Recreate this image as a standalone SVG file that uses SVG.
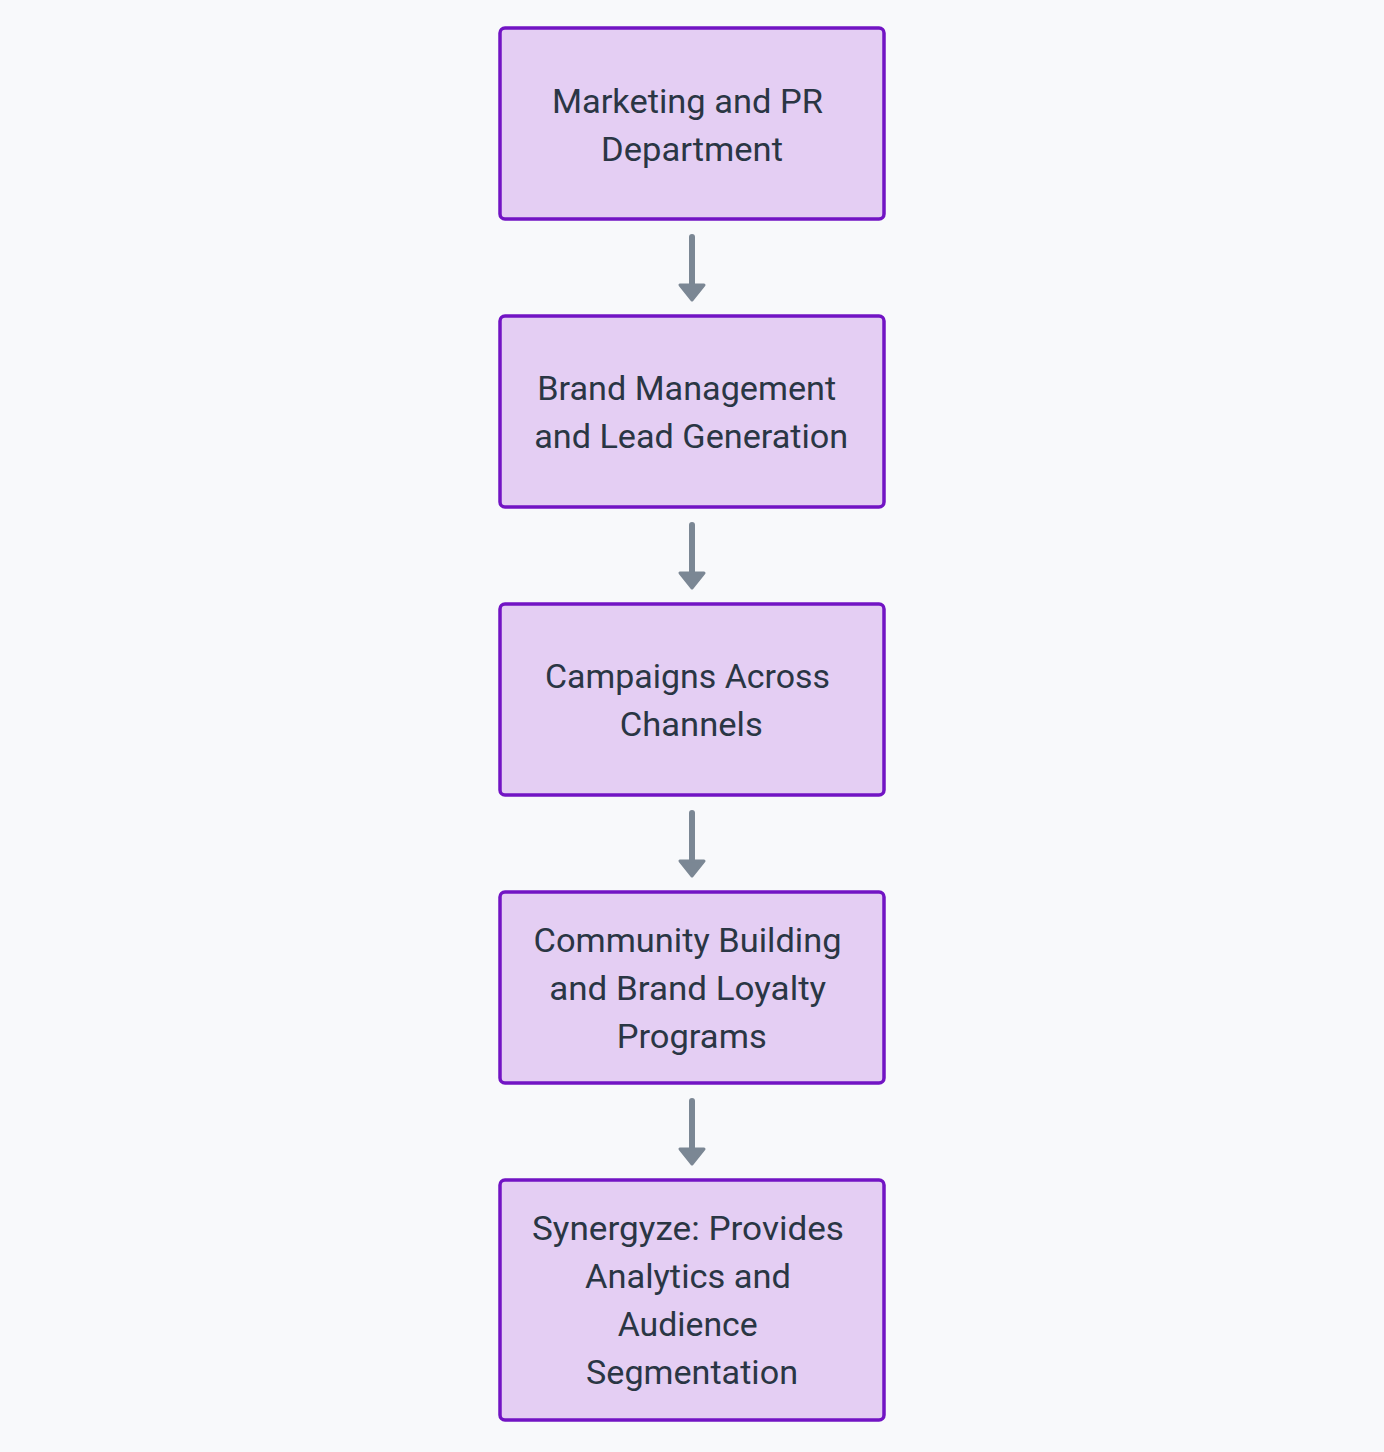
<svg xmlns="http://www.w3.org/2000/svg" width="1384" height="1452" viewBox="0 0 1384 1452">
  <style>
    .box { fill: #e4cef3; stroke: #7214c4; stroke-width: 3.5; }
    .lbl { font-family: Roboto, "Liberation Sans", sans-serif; font-size: 34px; fill: #2a3644; text-anchor: middle; }
    .edge { stroke: #7b8794; stroke-width: 6; stroke-linecap: round; fill: none; }
    .head { fill: #7b8794; stroke: #7b8794; stroke-width: 3; stroke-linejoin: round; }
  </style>
  <rect width="1384" height="1452" fill="#f8f9fb"/>
  <g id="connectors">
    <g id="e1"><line class="edge" x1="692" y1="237" x2="692" y2="284"/><polygon class="head" points="680,285 704,285 692,300"/></g>
    <g id="e2"><line class="edge" x1="692" y1="525" x2="692" y2="572"/><polygon class="head" points="680,573 704,573 692,588"/></g>
    <g id="e3"><line class="edge" x1="692" y1="813" x2="692" y2="860"/><polygon class="head" points="680,861 704,861 692,876"/></g>
    <g id="e4"><line class="edge" x1="692" y1="1101" x2="692" y2="1148"/><polygon class="head" points="680,1149 704,1149 692,1164"/></g>
  </g>
  <g id="n1">
    <rect class="box" x="500" y="28" width="384" height="191" rx="5"/>
    <text class="lbl" x="687.4" y="113" textLength="271" lengthAdjust="spacingAndGlyphs">Marketing and PR</text>
    <text class="lbl" x="692" y="161" textLength="182" lengthAdjust="spacingAndGlyphs">Department</text>
  </g>
  <g id="n2">
    <rect class="box" x="500" y="316" width="384" height="191" rx="5"/>
    <text class="lbl" x="686.7" y="400" textLength="299" lengthAdjust="spacingAndGlyphs">Brand Management</text>
    <text class="lbl" x="691.2" y="448" textLength="314" lengthAdjust="spacingAndGlyphs">and Lead Generation</text>
  </g>
  <g id="n3">
    <rect class="box" x="500" y="604" width="384" height="191" rx="5"/>
    <text class="lbl" x="687.5" y="688" textLength="285" lengthAdjust="spacingAndGlyphs">Campaigns Across</text>
    <text class="lbl" x="691.3" y="736" textLength="143" lengthAdjust="spacingAndGlyphs">Channels</text>
  </g>
  <g id="n4">
    <rect class="box" x="500" y="892" width="384" height="191" rx="5"/>
    <text class="lbl" x="687.5" y="952" textLength="308" lengthAdjust="spacingAndGlyphs">Community Building</text>
    <text class="lbl" x="687.7" y="1000" textLength="277" lengthAdjust="spacingAndGlyphs">and Brand Loyalty</text>
    <text class="lbl" x="691.7" y="1048" textLength="150" lengthAdjust="spacingAndGlyphs">Programs</text>
  </g>
  <g id="n5">
    <rect class="box" x="500" y="1180" width="384" height="240" rx="5"/>
    <text class="lbl" x="688" y="1240" textLength="312" lengthAdjust="spacingAndGlyphs">Synergyze: Provides</text>
    <text class="lbl" x="688" y="1288" textLength="206" lengthAdjust="spacingAndGlyphs">Analytics and</text>
    <text class="lbl" x="687.7" y="1336" textLength="140" lengthAdjust="spacingAndGlyphs">Audience</text>
    <text class="lbl" x="692" y="1384" textLength="212" lengthAdjust="spacingAndGlyphs">Segmentation</text>
  </g>
</svg>
